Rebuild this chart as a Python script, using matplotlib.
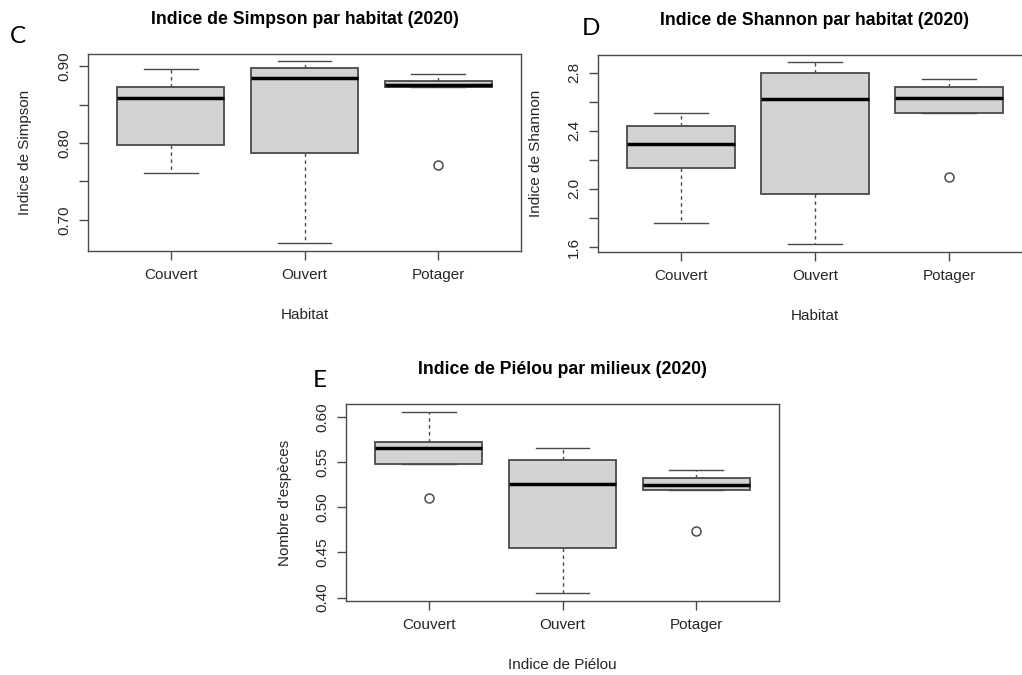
import matplotlib
matplotlib.use("Agg")
import matplotlib.pyplot as plt

plt.rcParams['font.family'] = ['Liberation Sans', 'DejaVu Sans']

habitats = ["Couvert", "Ouvert", "Potager"]

# C - Simpson (whislo, q1, med, q3, whishi, fliers)
simpson_lo = [0.761, 0.670, 0.873]
simpson_q1 = [0.797, 0.787, 0.873]
simpson_med = [0.858, 0.884, 0.875]
simpson_q3 = [0.873, 0.898, 0.881]
simpson_hi = [0.896, 0.906, 0.890]
simpson_out = [[], [], [0.771]]

# D - Shannon
shannon_lo = [1.766, 1.621, 2.519]
shannon_q1 = [2.142, 1.968, 2.519]
shannon_med = [2.308, 2.621, 2.623]
shannon_q3 = [2.430, 2.800, 2.699]
shannon_hi = [2.524, 2.876, 2.759]
shannon_out = [[], [], [2.083]]

# E - Piélou
pielou_lo = [0.548, 0.405, 0.519]
pielou_q1 = [0.548, 0.455, 0.519]
pielou_med = [0.566, 0.526, 0.525]
pielou_q3 = [0.572, 0.552, 0.532]
pielou_hi = [0.606, 0.566, 0.541]
pielou_out = [[0.510], [], [0.474]]

W, H = 1022, 675
fig = plt.figure(figsize=(W / 100, H / 100), dpi=100)

def ax_px(left, top, right, bottom):
    return fig.add_axes([left / W, 1 - bottom / H, (right - left) / W, (bottom - top) / H])

def stats(lo, q1, med, q3, hi, out):
    return [dict(whislo=lo[i], q1=q1[i], med=med[i], q3=q3[i], whishi=hi[i],
                 fliers=out[i], label=habitats[i]) for i in range(len(habitats))]

edge = "#4a4a4a"
txt = "#262626"

def panel(ax, st, ylim, yticks, ylabs, title, xlabel, ylabel, ylab_x):
    ax.bxp(st, positions=[1, 2, 3], widths=0.8, patch_artist=True,
           boxprops=dict(facecolor="#d3d3d3", edgecolor=edge, linewidth=1.3),
           medianprops=dict(color="black", linewidth=2.5, solid_capstyle="butt"),
           whiskerprops=dict(color=edge, linewidth=1.0, linestyle=(0, (2.5, 2.5))),
           capprops=dict(color=edge, linewidth=1.0),
           capwidths=0.4,
           flierprops=dict(marker="o", markerfacecolor="none", markeredgecolor=edge,
                           markersize=6.5, markeredgewidth=1.1))
    ax.set_xlim(0.38, 3.62)
    ax.set_ylim(*ylim)
    ax.set_yticks(yticks)
    ax.set_yticklabels(ylabs, rotation=90, va="center", fontsize=11, color=txt)
    ax.set_xticks([1, 2, 3])
    ax.set_xticklabels(habitats, fontsize=11, color=txt)
    ax.tick_params(length=6.3, width=1.0, color=edge, pad=6)
    for s in ax.spines.values():
        s.set_color(edge)
        s.set_linewidth(1.0)
    ax.set_title(title, fontsize=12.7, fontweight="bold", pad=21.5, color="black")
    ax.set_xlabel(xlabel, fontsize=11, color=txt, va="center")
    ax.xaxis.set_label_coords(0.5, -0.325)
    ax.set_ylabel(ylabel, fontsize=11, color=txt, va="center")
    ax.yaxis.set_label_coords(ylab_x, 0.5)

axC = ax_px(88, 54, 521, 251)
panel(axC, stats(simpson_lo, simpson_q1, simpson_med, simpson_q3, simpson_hi, simpson_out),
      (0.6597, 0.9156), [0.70, 0.75, 0.80, 0.85, 0.90], ["0.70", "", "0.80", "", "0.90"],
      "Indice de Simpson par habitat (2020)", "Habitat", "Indice de Simpson", -0.145)

axD = ax_px(598, 55, 1032, 252)
panel(axD, stats(shannon_lo, shannon_q1, shannon_med, shannon_q3, shannon_hi, shannon_out),
      (1.5655, 2.921), [1.6, 1.8, 2.0, 2.2, 2.4, 2.6, 2.8], ["1.6", "", "2.0", "", "2.4", "", "2.8"],
      "Indice de Shannon par habitat (2020)", "Habitat", "Indice de Shannon", -0.143)

axE = ax_px(346, 404, 779, 601)
panel(axE, stats(pielou_lo, pielou_q1, pielou_med, pielou_q3, pielou_hi, pielou_out),
      (0.3963, 0.6144), [0.40, 0.45, 0.50, 0.55, 0.60], ["0.40", "0.45", "0.50", "0.55", "0.60"],
      "Indice de Piélou par milieux (2020)", "Indice de Piélou", "Nombre d'espèces", -0.141)

for letter, x, y in [("C", 10, 42.7), ("D", 582, 35), ("E", 313, 387)]:
    fig.text(x / W, 1 - y / H, letter, fontsize=17.5, family=["Lato", "DejaVu Sans"],
             va="baseline", ha="left", color="black")

fig.savefig("out.png", dpi=100)
